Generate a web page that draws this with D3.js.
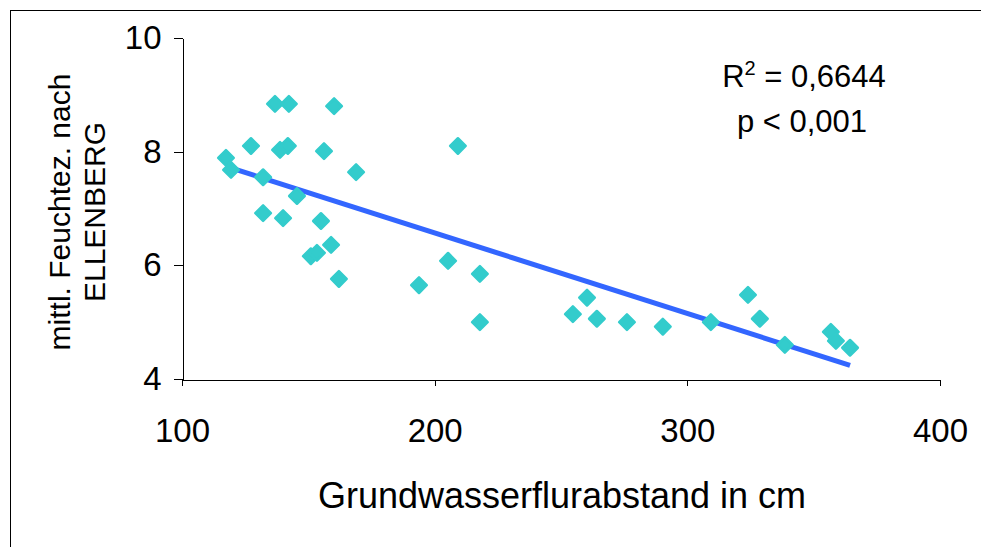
<!doctype html>
<html>
  <head>
    <meta charset="UTF-8">
    <title>Feuchtezahl vs. Grundwasserflurabstand</title>
    <style>
      body { margin: 0; background: #fff; }
      svg { display: block; font-family: "Liberation Sans", Arial, sans-serif; }
      .axis path, .axis line { stroke: #000; shape-rendering: crispEdges; }
      .axis text { font-size: 33px; fill: #000; }
    </style>
  </head>
  <body>
    <svg id="chart" width="981" height="547"></svg>
    <script src="https://d3js.org/d3.v7.min.js"></script>
    <script>
      // Grundwasserflurabstand (cm) and mittl. Feuchtezahl
      const abstand = [117.4, 119.4, 127.3, 132.1, 132.1, 136.8, 142.3, 138.8, 141.9, 140.0,
                       145.5, 156.2, 155.0, 160.2, 159.0, 151.0, 153.4, 162.1, 168.9, 193.8,
                       205.3, 209.2, 217.9, 217.9, 254.7, 260.3, 264.2, 276.1, 290.3, 309.3,
                       324.0, 328.7, 338.6, 356.8, 358.8, 364.4];
      const feuchte = [7.89, 7.68, 8.10, 7.55, 6.92, 8.84, 8.84, 8.03, 8.10, 6.83,
                       7.22, 8.01, 6.78, 8.80, 6.36, 6.16, 6.22, 5.76, 7.64, 5.65,
                       6.08, 8.10, 5.85, 5.00, 5.14, 5.43, 5.06, 5.00, 4.92, 5.00,
                       5.48, 5.06, 4.60, 4.83, 4.67, 4.55];
      const xTicks = [100, 200, 300, 400];
      const yTicks = [4, 6, 8, 10];

      const svg = d3.select("#chart");

      // frame (right and bottom edges run off the picture)
      svg.append("rect")
        .attr("x", 10.5).attr("y", 10.5)
        .attr("width", 1100).attr("height", 700)
        .attr("fill", "none").attr("stroke", "#000").attr("stroke-width", 1);

      const x = d3.scaleLinear().domain([100, 400]).range([182, 940]);
      const y = d3.scaleLinear().domain([4, 10]).range([379, 38]);

      const xAxis = svg.append("g")
        .attr("class", "axis")
        .attr("transform", "translate(0,379.5)")
        .call(d3.axisBottom(x).tickValues(xTicks).tickSize(6).tickSizeOuter(0).tickPadding(32));
      xAxis.selectAll("text").attr("dy", "0.75em");

      const yAxis = svg.append("g")
        .attr("class", "axis")
        .attr("transform", "translate(182.5,0)")
        .call(d3.axisLeft(y).tickValues(yTicks).tickFormat(d3.format("d"))
          .tickSize(9).tickSizeOuter(0).tickPadding(12));

      // linear regression over the points
      const pts = abstand.map((v, i) => [v, feuchte[i]]);
      const mx = d3.mean(abstand), my = d3.mean(feuchte);
      const slope = d3.sum(pts, p => (p[0] - mx) * (p[1] - my)) / d3.sum(pts, p => (p[0] - mx) ** 2);
      const icpt = my - slope * mx;
      const [x0, x1] = d3.extent(abstand);

      svg.append("line")
        .attr("x1", x(x0)).attr("y1", y(icpt + slope * x0))
        .attr("x2", x(x1)).attr("y2", y(icpt + slope * x1))
        .attr("stroke", "#3366FF").attr("stroke-width", 5);

      // diamonds
      const diamond = d3.symbol(d3.symbolSquare, 121);
      svg.append("g").selectAll("path")
        .data(pts)
        .join("path")
          .attr("d", diamond)
          .attr("transform", d => `translate(${x(d[0])},${y(d[1])}) rotate(45)`)
          .attr("fill", "#33CCCC")
          .attr("stroke", "#33CCCC")
          .attr("stroke-width", 2.5)
          .attr("stroke-linejoin", "round");

      // stats
      const r2 = svg.append("text")
        .attr("x", 804).attr("y", 87)
        .attr("text-anchor", "middle")
        .attr("font-size", 31);
      r2.append("tspan").text("R");
      r2.append("tspan").attr("font-size", 20).attr("dy", -12).text("2");
      r2.append("tspan").attr("dy", 12).text(" = 0,6644");

      svg.append("text")
        .attr("x", 802).attr("y", 132)
        .attr("text-anchor", "middle")
        .attr("font-size", 31)
        .text("p < 0,001");

      // axis titles
      svg.append("text")
        .attr("x", 562).attr("y", 508)
        .attr("text-anchor", "middle")
        .attr("font-size", 36)
        .text("Grundwasserflurabstand in cm");

      const yTitle = svg.append("text")
        .attr("transform", "translate(0,212) rotate(-90)")
        .attr("text-anchor", "middle")
        .attr("font-size", 30);
      yTitle.append("tspan").attr("x", 0).attr("y", 70).text("mittl. Feuchtez. nach");
      yTitle.append("tspan").attr("x", 0).attr("y", 105).text("ELLENBERG");
    </script>
  </body>
</html>
